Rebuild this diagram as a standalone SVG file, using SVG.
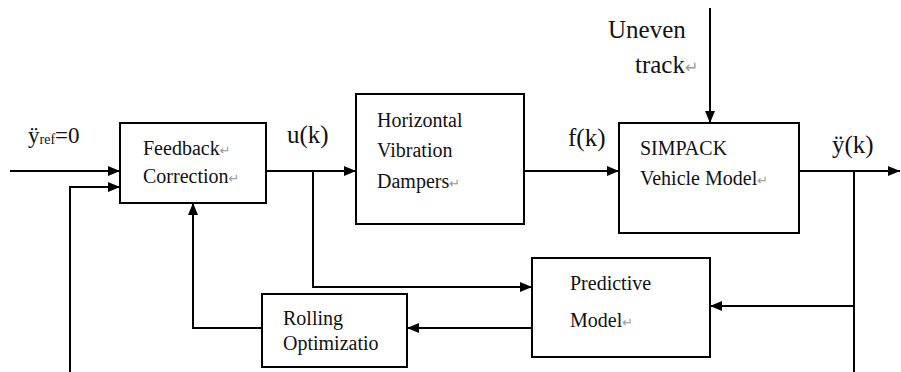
<svg xmlns="http://www.w3.org/2000/svg" width="901" height="372" viewBox="0 0 901 372">
<style>
.box{fill:#fff;stroke:#000;stroke-width:2}
.ln{fill:none;stroke:#000;stroke-width:2}
</style>
<defs>
<marker id="ah" markerWidth="12" markerHeight="10" refX="12" refY="5" orient="auto" markerUnits="userSpaceOnUse">
<path d="M0,0 L12,5 L0,10 Z" fill="#000"/>
</marker>
</defs>
<rect width="901" height="372" fill="#fff"/>
<g id="connectors">
<path class="ln" d="M10,171 H120" marker-end="url(#ah)"/>
<path class="ln" d="M70,372 V187 H120" marker-end="url(#ah)"/>
<path class="ln" d="M266,171 H356" marker-end="url(#ah)"/>
<path class="ln" d="M524,171 H619" marker-end="url(#ah)"/>
<path class="ln" d="M710,8 V123" marker-end="url(#ah)"/>
<path class="ln" d="M799,171 H900" marker-end="url(#ah)"/>
<path class="ln" d="M313,171 V287 H532" marker-end="url(#ah)"/>
<path class="ln" d="M854,171 V372"/>
<path class="ln" d="M854,306 H710" marker-end="url(#ah)"/>
<path class="ln" d="M532,328 H407" marker-end="url(#ah)"/>
<path class="ln" d="M262,328 H193 V203" marker-end="url(#ah)"/>
</g>
<g id="labels">
<text font-family="Liberation Serif" fill="#111" x="28" y="143" font-size="23">&#255;<tspan font-size="14" dy="1">ref</tspan><tspan dy="-1">=0</tspan></text>
<text font-family="Liberation Serif" fill="#111" font-size="25" x="287" y="143">u(k)</text>
<text font-family="Liberation Serif" fill="#111" font-size="25" x="568" y="146">f(k)</text>
<text font-family="Liberation Serif" fill="#111" font-size="25" x="832" y="153">&#255;(k)</text>
<text font-family="Liberation Serif" fill="#111" font-size="25" x="608" y="38">Uneven</text>
<text font-family="Liberation Serif" fill="#111" font-size="25" x="635" y="73">track<tspan font-family="DejaVu Sans" fill="#999" font-size="16">&#8629;</tspan></text>
</g>
<g id="feedback">
<rect class="box" x="120" y="123" width="146" height="80"/>
<text font-family="Liberation Serif" fill="#111" font-size="20" x="143" y="155">Feedback<tspan font-family="DejaVu Sans" fill="#999" font-size="13">&#8629;</tspan></text>
<text font-family="Liberation Serif" fill="#111" font-size="20" x="143" y="183">Correction<tspan font-family="DejaVu Sans" fill="#999" font-size="13">&#8629;</tspan></text>
</g>
<g id="dampers">
<rect class="box" x="356" y="94" width="168" height="130"/>
<text font-family="Liberation Serif" fill="#111" font-size="20" x="377" y="127">Horizontal</text>
<text font-family="Liberation Serif" fill="#111" font-size="20" x="377" y="157">Vibration</text>
<text font-family="Liberation Serif" fill="#111" font-size="20" x="377" y="188">Dampers<tspan font-family="DejaVu Sans" fill="#999" font-size="13">&#8629;</tspan></text>
</g>
<g id="simpack">
<rect class="box" x="619" y="123" width="180" height="110"/>
<text font-family="Liberation Serif" fill="#111" font-size="20" x="640" y="155">SIMPACK</text>
<text font-family="Liberation Serif" fill="#111" font-size="20" x="640" y="185">Vehicle Model<tspan font-family="DejaVu Sans" fill="#999" font-size="13">&#8629;</tspan></text>
</g>
<g id="predictive">
<rect class="box" x="532" y="258" width="178" height="99"/>
<text font-family="Liberation Serif" fill="#111" font-size="20" x="570" y="290">Predictive</text>
<text font-family="Liberation Serif" fill="#111" font-size="20" x="570" y="327">Model<tspan font-family="DejaVu Sans" fill="#999" font-size="13">&#8629;</tspan></text>
</g>
<g id="rolling">
<rect class="box" x="262" y="294" width="145" height="73"/>
<text font-family="Liberation Serif" fill="#111" font-size="20" x="283" y="325">Rolling</text>
<text font-family="Liberation Serif" fill="#111" font-size="20" x="283" y="350">Optimizatio</text>
</g>
</svg>
